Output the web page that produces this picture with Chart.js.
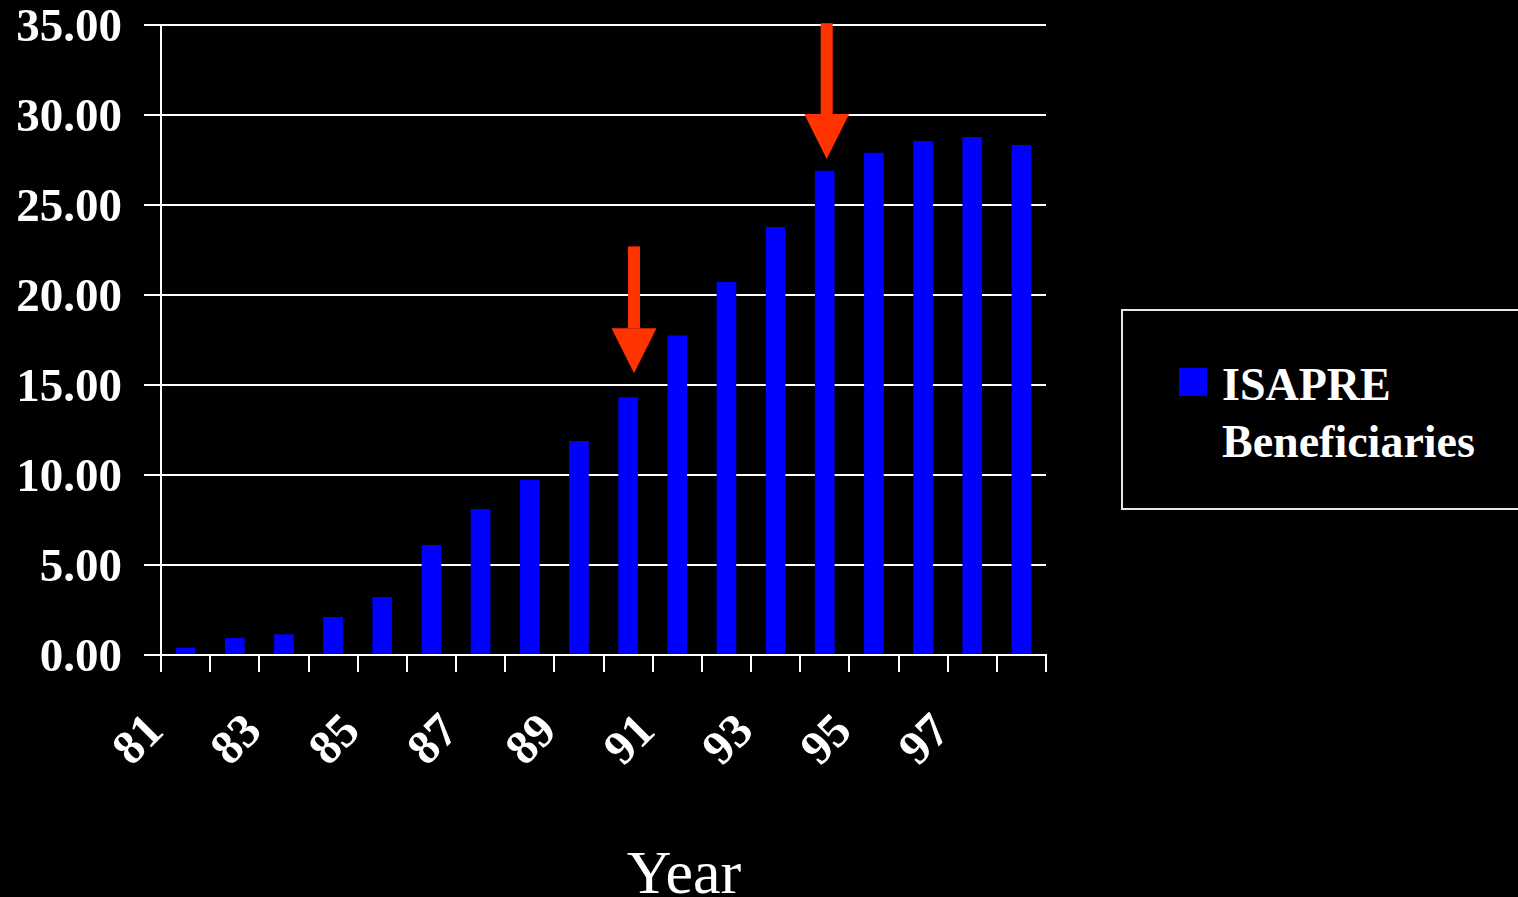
<!DOCTYPE html>
<html>
<head>
<meta charset="utf-8">
<script src="https://cdn.jsdelivr.net/npm/chart.js@4.4.1/dist/chart.umd.min.js"></script>
<style>
  html, body { margin: 0; padding: 0; background: #000; overflow: hidden; }
  body { width: 1518px; height: 897px; position: relative; }
  #wrap { position: absolute; left: 0; top: 0; width: 1060px; height: 897px; }
  .legend {
    position: absolute; left: 1121px; top: 309px; width: 420px; height: 197px;
    border: 2px solid #e6e6e6; box-sizing: content-box;
  }
  .legend .swatch { position: absolute; left: 56px; top: 57px; width: 28px; height: 28px; background: #0000ff; }
  .legend .text {
    position: absolute; left: 99px; top: 45px; color: #fff;
    font: bold 46px/57px "Liberation Serif", "Times New Roman", serif;
  }
  .xtitle {
    position: absolute; left: 584px; top: 841px; width: 200px; text-align: center; color: #fff;
    font: 62px/62px "Liberation Serif", "Times New Roman", serif;
  }
</style>
</head>
<body>
<div id="wrap"><canvas id="chart" width="1060" height="897"></canvas></div>
<div class="legend">
  <div class="swatch"></div>
  <div class="text">ISAPRE<br>Beneficiaries</div>
</div>
<div class="xtitle">Year</div>

<script>
// ── Data ──────────────────────────────────────────────
const years = ['81', '82', '83', '84', '85', '86', '87', '88', '89',
               '90', '91', '92', '93', '94', '95', '96', '97', '98'];
const beneficiaries = [0.40, 0.94, 1.15, 2.11, 3.22, 6.11, 8.11, 9.72, 11.89,
                       14.32, 17.75, 20.72, 23.78, 26.90, 27.90, 28.56, 28.78, 28.33];
const yTicks = [0, 5, 10, 15, 20, 25, 30, 35];

// red arrows: category position, start value, tip value
const arrowAt   = [9.12, 13.04];
const arrowFrom = [22.7, 35.1];
const arrowTo   = [15.65, 27.55];

const serif = '"Liberation Serif", "Times New Roman", serif';

// draws the two annotation arrows from scale coordinates
const arrowPlugin = {
  id: 'arrows',
  afterDatasetsDraw(chart) {
    const { ctx, scales: { x, y } } = chart;
    ctx.save();
    ctx.fillStyle = '#ff3300';
    arrowAt.forEach((pos, i) => {
      const cx = x.getPixelForValue(pos);
      const top = y.getPixelForValue(arrowFrom[i]);
      const tip = y.getPixelForValue(arrowTo[i]);
      const headLen = 45, headW = 45, shaft = 12;
      ctx.fillRect(cx - shaft / 2, top, shaft, tip - headLen - top);
      ctx.beginPath();
      ctx.moveTo(cx - headW / 2, tip - headLen);
      ctx.lineTo(cx + headW / 2, tip - headLen);
      ctx.lineTo(cx, tip);
      ctx.closePath();
      ctx.fill();
    });
    ctx.restore();
  }
};

new Chart(document.getElementById('chart'), {
  type: 'bar',
  data: {
    labels: years,
    datasets: [{
      label: 'ISAPRE Beneficiaries',
      data: beneficiaries,
      backgroundColor: '#0000ff',
      barPercentage: 0.4,
      categoryPercentage: 1.0,
    }]
  },
  options: {
    responsive: false,
    animation: false,
    devicePixelRatio: 1,
    layout: { padding: { top: 25, right: 14, left: 0, bottom: 0 } },
    plugins: { legend: { display: false }, tooltip: { enabled: false } },
    scales: {
      x: {
        afterFit: s => { s.height = 242; s.paddingLeft = 0; s.paddingRight = 0; },
        grid: { display: true, offset: true, drawOnChartArea: false, drawTicks: true,
                tickLength: 17, color: '#ffffff', lineWidth: 2 },
        border: { display: true, color: '#ffffff', width: 2 },
        ticks: {
          autoSkip: false, minRotation: 45, maxRotation: 45, labelOffset: -29, padding: 32,
          color: '#ffffff', font: { family: serif, size: 48, weight: 'bold' },
          callback: (v, i) => (i % 2 === 0 ? years[i] : '')
        }
      },
      y: {
        min: yTicks[0], max: yTicks[yTicks.length - 1],
        afterFit: s => { s.width = 161; s.paddingTop = 0; s.paddingBottom = 0; },
        afterBuildTicks: s => { s.ticks = yTicks.map(v => ({ value: v })); },
        grid: { color: '#ffffff', lineWidth: 2, tickLength: 17, drawTicks: true },
        border: { display: true, color: '#ffffff', width: 2 },
        ticks: {
          padding: 22, labelOffset: 4, color: '#ffffff',
          font: { family: serif, size: 47, weight: 'bold' },
          callback: v => Number(v).toFixed(2)
        }
      }
    }
  },
  plugins: [arrowPlugin]
});
</script>
</body>
</html>
